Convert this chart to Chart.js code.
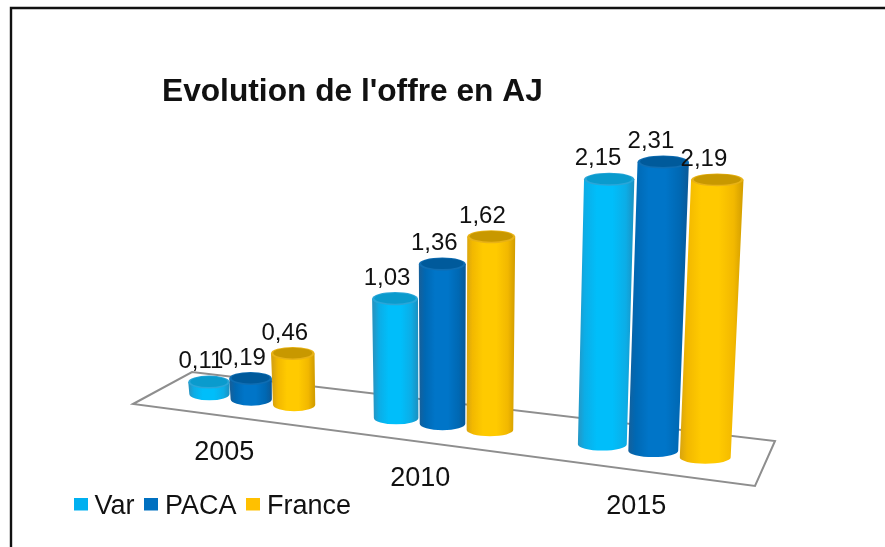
<!DOCTYPE html>
<html><head><meta charset="utf-8">
<style>html,body{margin:0;padding:0;background:#fff}canvas{display:block}</style>
<script src="https://cdn.jsdelivr.net/npm/chart.js@4"></script>
</head><body>
<canvas id="c" width="885" height="547"></canvas>
<script>
const categories = ['2005', '2010', '2015'];
const seriesNames = ['Var', 'PACA', 'France'];
const varValues = [0.11, 1.03, 2.15];
const pacaValues = [0.19, 1.36, 2.31];
const franceValues = [0.46, 1.62, 2.19];
const chartTitle = "Evolution de l'offre en AJ";

const FONT = "'Liberation Sans', Arial, sans-serif";
const shades = [
  {flat:'#00B0F0', edge:'#2596c4', soft:'#0cadE6', mid:'#00BEFA', rightEdge:'#1b93c4', top:'#0a9bcd', rim:'#2aa6d8'},
  {flat:'#0070C0', edge:'#14609c', soft:'#0068b3', mid:'#0075C8', rightEdge:'#0a5a99', top:'#005a9b', rim:'#0f6db2'},
  {flat:'#FFC000', edge:'#d8a410', soft:'#f2b800', mid:'#FFCA00', rightEdge:'#d49f00', top:'#c89800', rim:'#e8b215'}
];

const fmt = v => v.toFixed(2).replace('.', ',');

const swatch = color => {
  const s = document.createElement('canvas');
  s.width = 14; s.height = 18;
  const g = s.getContext('2d');
  g.fillStyle = color;
  g.fillRect(0, 0, 14, 13);
  return s;
};

const perspective = {
  id: 'perspective',
  beforeDraw(chart) {
    const c = chart.ctx;
    c.save();
    c.fillStyle = '#fff';
    c.fillRect(0, 0, chart.width, chart.height);
    c.restore();
    c.filter = 'blur(0.55px)';
    c.save();
    c.strokeStyle = '#111';
    c.lineWidth = 2.4;
    c.beginPath();
    c.moveTo(chart.width + 5, 8);
    c.lineTo(11, 8);
    c.lineTo(11, chart.height + 5);
    c.stroke();
    c.restore();
  },
  afterDraw(chart) {
    chart.ctx.filter = 'none';
  },
  afterLayout(chart) {
    if (chart.titleBlock) chart.titleBlock.left = 162;
  },
  beforeDatasetsDraw(chart) {
    const c = chart.ctx, area = chart.chartArea, xs = chart.scales.x, ys = chart.scales.y;
    const tOf = x => (x - area.left) / (area.right - area.left);
    const screenX = t => 442.5 + 603 * (t - 0.5) + 87.75 * (t - 0.5) * (t - 0.5);
    const groundY = x => 394 + 0.128 * (x - 209.5);

    // floor
    c.save();
    c.strokeStyle = '#8e8e8e';
    c.lineWidth = 2;
    c.beginPath();
    c.moveTo(133, 404); c.lineTo(192, 372); c.lineTo(775, 441); c.lineTo(755, 486);
    c.closePath();
    c.stroke();
    c.restore();

    const labels = [];
    categories.forEach((_, j) => {
      chart.data.datasets.forEach((ds, i) => {
        const el = chart.getDatasetMeta(i).data[j];
        const t = tOf(el.x);
        const xb = screenX(t), yb = groundY(xb);
        const unit = 106.25 + 22.5 * t;
        const zero = ys.getPixelForValue(0);
        const value = (zero - el.y) / (zero - ys.getPixelForValue(1));
        const h = value * unit;
        const rx = (el.width / 2) * (0.83 + 0.276 * t);
        const rt = rx * 1.03, ratio = 0.32 - 0.08 * t, ry = rx * ratio, ryt = rt * ratio;
        const xt = xb + h * (xb - 450) * 0.00017, yt = yb - h;
        const s = shades[i];

        const g = c.createLinearGradient(xb - rx, 0, xb + rx + (xt - xb), 0);
        g.addColorStop(0, s.edge);
        g.addColorStop(0.12, s.soft);
        g.addColorStop(0.34, s.mid);
        g.addColorStop(0.62, s.mid);
        g.addColorStop(0.86, s.soft);
        g.addColorStop(1, s.rightEdge);
        c.save();
        c.fillStyle = g;
        c.beginPath();
        c.moveTo(xt - rt, yt);
        c.lineTo(xb - rx, yb);
        c.ellipse(xb, yb, rx, ry, 0, Math.PI, 0, true);
        c.lineTo(xt + rt, yt);
        c.closePath();
        c.fill();
        c.fillStyle = s.rim;
        c.beginPath();
        c.ellipse(xt, yt, rt, ryt, 0, 0, Math.PI * 2);
        c.fill();
        c.fillStyle = s.top;
        c.beginPath();
        c.ellipse(xt, yt - 0.4, rt * 0.9, ryt * 0.82, 0, 0, Math.PI * 2);
        c.fill();
        c.restore();

        const dx = -8 - Math.max(0, xt - 450) * 0.02;
        labels.push({text: fmt(ds.data[j]), x: xt + dx, y: yt - 20.5});
      });
    });

    c.save();
    c.fillStyle = '#111';
    c.textAlign = 'center';
    c.textBaseline = 'middle';
    c.font = '24px ' + FONT;
    labels.forEach(l => c.fillText(l.text, l.x, l.y));

    c.font = '27px ' + FONT;
    xs.getLabels().forEach((lab, j) => {
      const x = screenX(tOf(xs.getPixelForTick(j)));
      const fx = x - 27 + (x - 250) * 0.025;
      const front = 404 + (fx - 133) * (486 - 404) / (755 - 133);
      c.fillText(lab, fx, front + 36.5);
    });
    c.restore();
    return false;
  }
};

new Chart(document.getElementById('c'), {
  type: 'bar',
  data: {
    labels: categories,
    datasets: [
      {label: seriesNames[0], data: varValues, backgroundColor: shades[0].flat},
      {label: seriesNames[1], data: pacaValues, backgroundColor: shades[1].flat},
      {label: seriesNames[2], data: franceValues, backgroundColor: shades[2].flat}
    ]
  },
  options: {
    responsive: false,
    animation: false,
    layout: {padding: {left: 64, right: 216, top: 8, bottom: 17}},
    datasets: {bar: {categoryPercentage: 0.7, barPercentage: 1}},
    scales: {
      x: {display: false},
      y: {display: false, min: 0, max: 3}
    },
    plugins: {
      tooltip: {enabled: false},
      title: {
        display: true, text: chartTitle, align: 'start', color: '#111',
        font: {family: FONT, size: 31.7, weight: 'bold'},
        padding: {top: 65, bottom: 0}
      },
      legend: {
        position: 'bottom', align: 'start',
        labels: {
          color: '#111', font: {family: FONT, size: 27},
          usePointStyle: true, pointStyleWidth: 1, boxHeight: 14,
          padding: 16,
          generateLabels(chart) {
            return Chart.defaults.plugins.legend.labels.generateLabels(chart).map((item, i) => {
              item.pointStyle = swatch(chart.data.datasets[i].backgroundColor);
              return item;
            });
          }
        }
      }
    }
  },
  plugins: [perspective]
});
</script>
</body></html>
